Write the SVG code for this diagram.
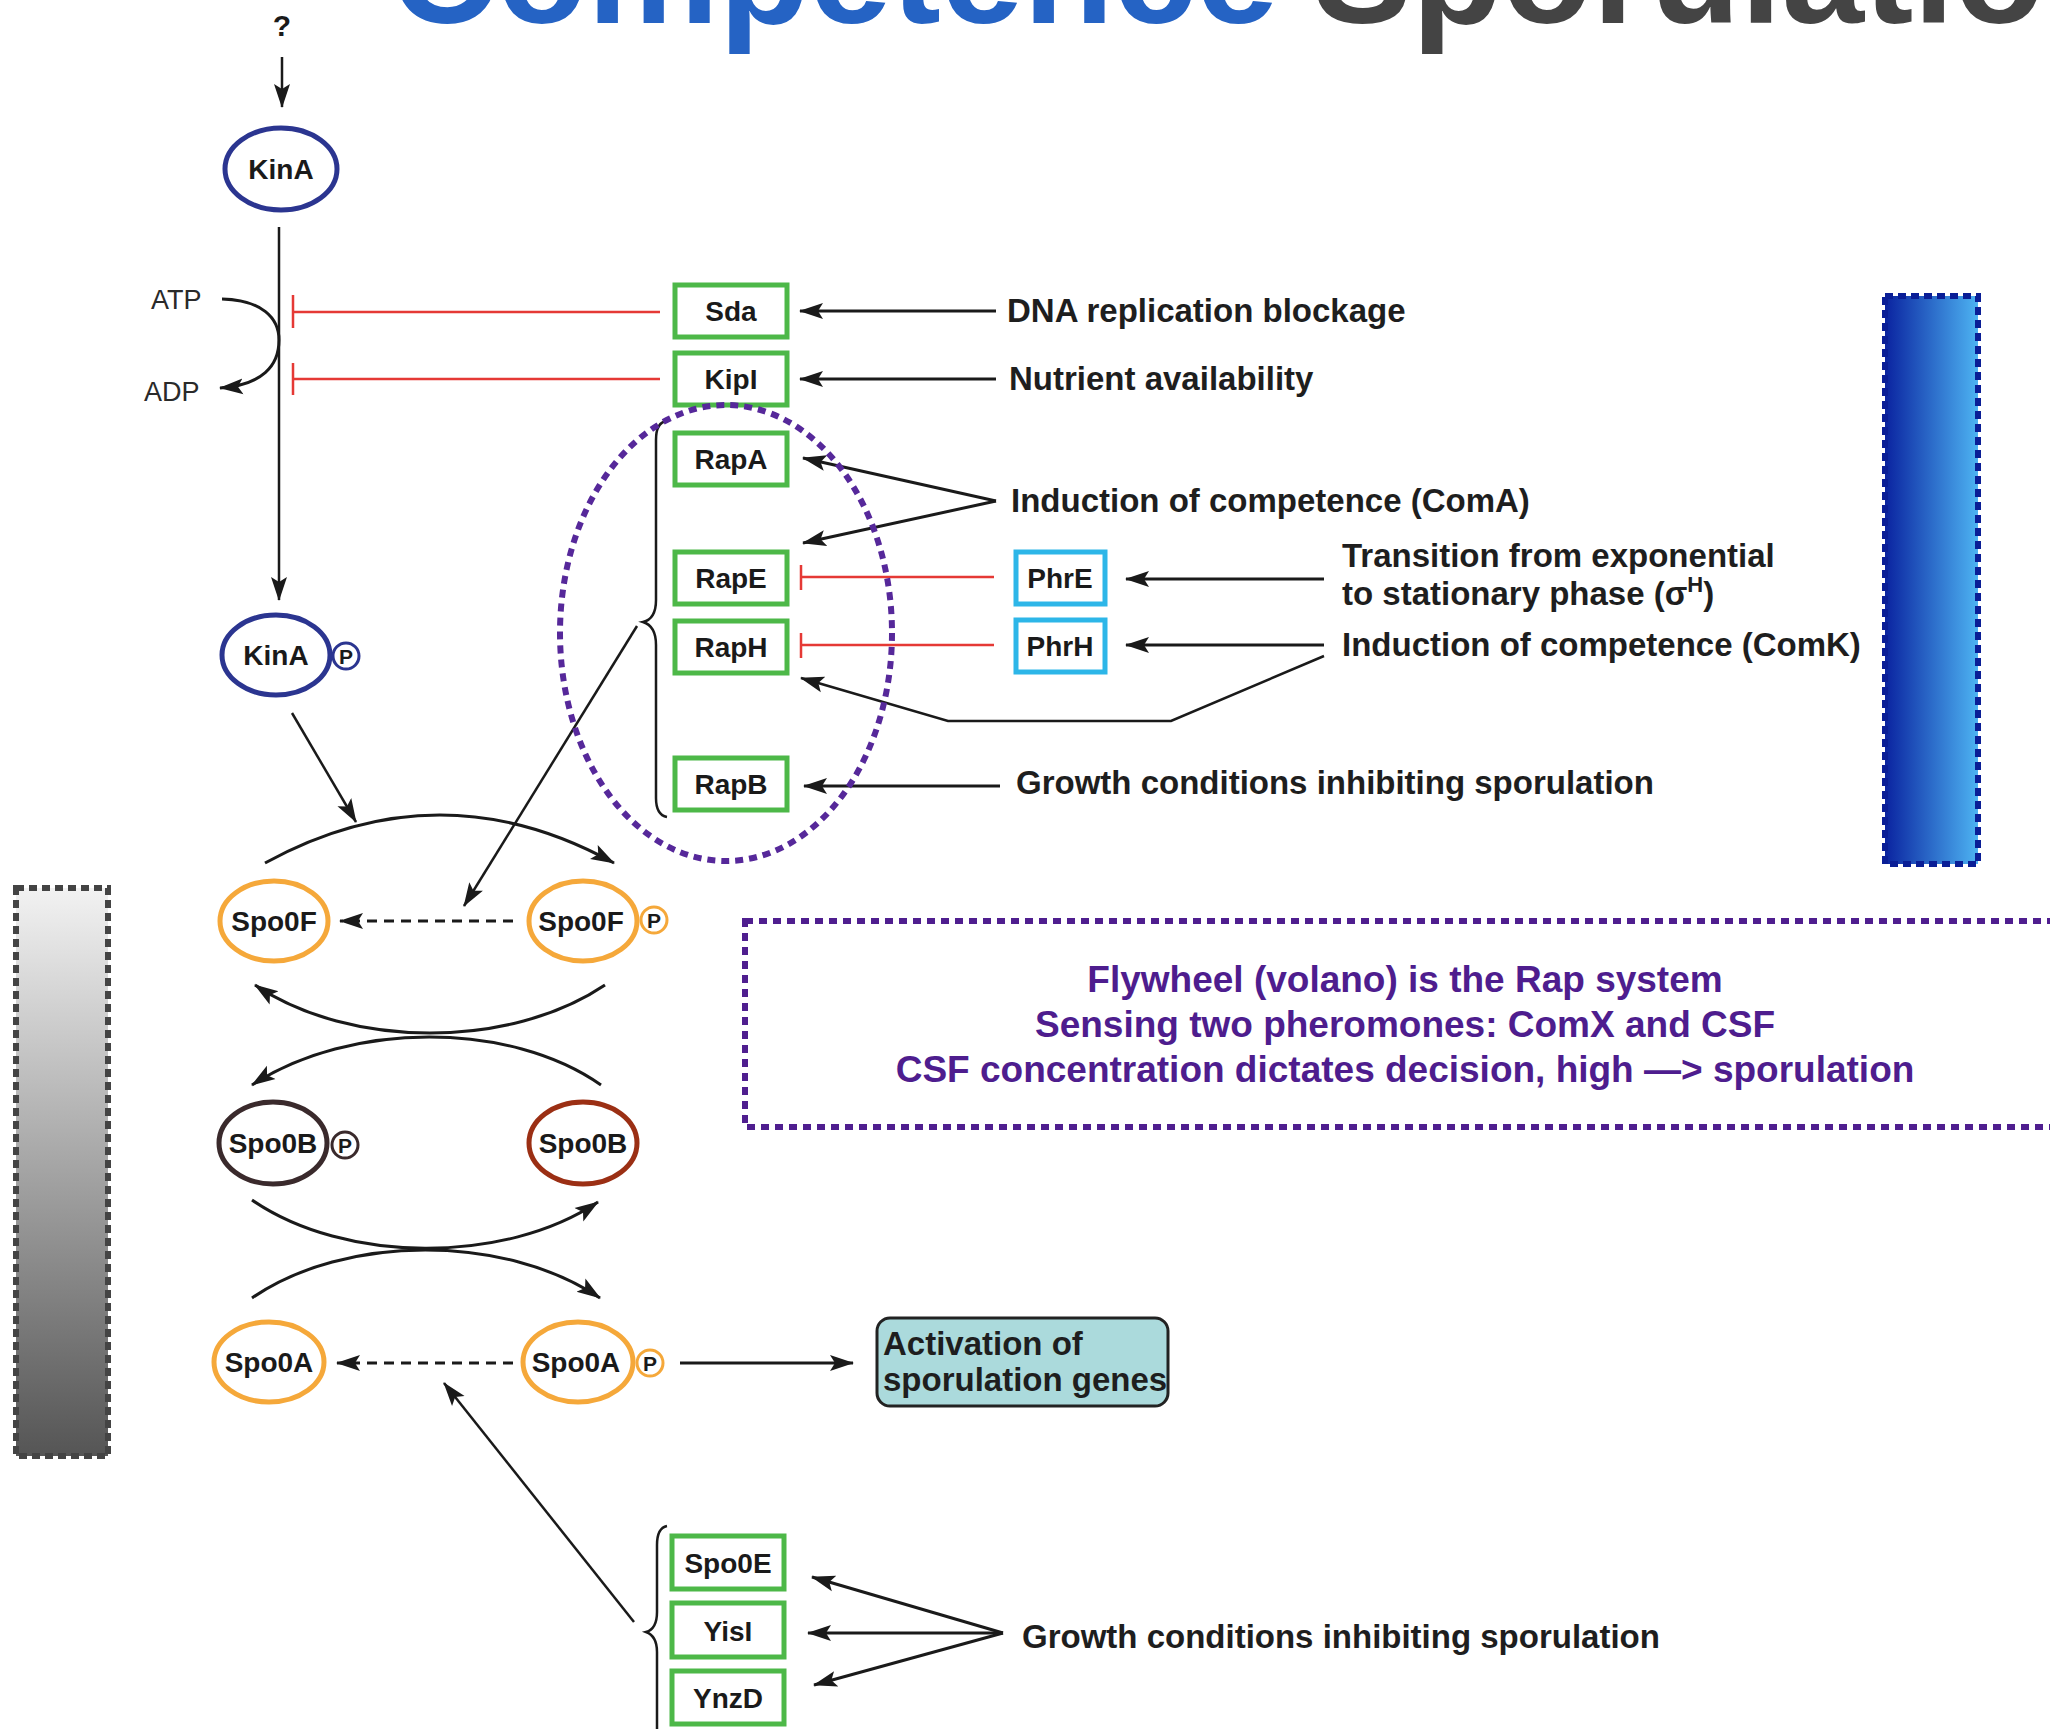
<svg xmlns="http://www.w3.org/2000/svg" width="2050" height="1729" viewBox="0 0 2050 1729">
<defs>
<marker id="ah" markerUnits="userSpaceOnUse" markerWidth="24" markerHeight="18" viewBox="0 0 24 18" refX="23" refY="9" orient="auto">
<path d="M0,1 L24,9 L0,17 L5,9 z" fill="#1a1a1a"/>
</marker>
<linearGradient id="gBlue" x1="0" y1="0" x2="1" y2="0">
<stop offset="0" stop-color="#0A23A0"/>
<stop offset="1" stop-color="#4DB3F2"/>
</linearGradient>
<linearGradient id="gGray" x1="0" y1="0" x2="0" y2="1">
<stop offset="0" stop-color="#F2F2F2"/>
<stop offset="1" stop-color="#555555"/>
</linearGradient>
</defs>
<style>
text{font-family:"Liberation Sans",Arial,Helvetica,sans-serif;}
.title{font-size:148px;font-weight:bold;}
.lbl{font-size:33px;font-weight:bold;fill:#1e1e1e;}
.nl{font-size:28px;font-weight:bold;fill:#1a1a1a;text-anchor:middle;}
.pl{font-size:21px;font-weight:bold;fill:#1a1a1a;text-anchor:middle;}
.atp{font-size:27px;fill:#2a2a2a;}
.gbox{fill:#ffffff;stroke:#4DB848;stroke-width:5;}
.cbox{fill:#ffffff;stroke:#2DB6E8;stroke-width:5;}
.org{fill:#ffffff;stroke:#F5A83A;stroke-width:5;}
.navy{fill:#ffffff;stroke:#2B3590;stroke-width:5;}
.conn{fill:none;stroke:#1a1a1a;stroke-width:2.5;}
.thick{fill:none;stroke:#1a1a1a;stroke-width:3;}
.dash{fill:none;stroke:#1a1a1a;stroke-width:3;stroke-dasharray:10 7;}
.inh{fill:none;stroke:#E53935;stroke-width:2.5;}
.purp{fill:#4E1D8E;font-size:37px;font-weight:bold;text-anchor:middle;}
</style>
<rect width="2050" height="1729" fill="#ffffff"/>

<text class="title" x="390" y="23" fill="#2563C4">Competence</text>
<text class="title" x="1313" y="23" fill="#444444">Sporulation</text>

<rect x="1885" y="296" width="93" height="568" fill="url(#gBlue)" stroke="#0A1E96" stroke-width="6" stroke-dasharray="8 5"/>
<rect x="16" y="888" width="92" height="568" fill="url(#gGray)" stroke="#444444" stroke-width="6" stroke-dasharray="8 5"/>

<g id="connectors">
<path class="conn" d="M282,57 L282,107" marker-end="url(#ah)"/>
<path class="conn" d="M279,227 L279,600" marker-end="url(#ah)"/>
<path class="thick" d="M222,299 C262,300 279,318 279,340 C279,366 262,385 220,388" marker-end="url(#ah)"/>
<path class="inh" d="M660,312 L293,312 M293,295 L293,328"/>
<path class="inh" d="M660,379 L293,379 M293,363 L293,395"/>
<path class="inh" d="M994,577 L801,577 M801,565 L801,590"/>
<path class="inh" d="M994,645 L801,645 M801,633 L801,658"/>
<path class="thick" d="M996,311 L800,311" marker-end="url(#ah)"/>
<path class="thick" d="M996,379 L800,379" marker-end="url(#ah)"/>
<path class="thick" d="M996,501 L803,458" marker-end="url(#ah)"/>
<path class="thick" d="M996,501 L803,543" marker-end="url(#ah)"/>
<path class="thick" d="M1324,579 L1126,579" marker-end="url(#ah)"/>
<path class="thick" d="M1324,645 L1126,645" marker-end="url(#ah)"/>
<path class="conn" d="M1324,656 L1171,721 L948,721 L801,678" marker-end="url(#ah)"/>
<path class="thick" d="M1000,786 L804,786" marker-end="url(#ah)"/>
<path class="conn" d="M667,421 Q656,422 656,440 L656,600 Q656,619 643,622 Q656,626 656,645 L656,798 Q656,815 667,817"/>
<path class="conn" d="M637,626 L464,906" marker-end="url(#ah)"/>
<path class="conn" d="M292,713 L356,822" marker-end="url(#ah)"/>
<path class="thick" d="M265,863 Q440,767 614,863" marker-end="url(#ah)"/>
<path class="dash" d="M513,921 L340,921" marker-end="url(#ah)"/>
<path class="thick" d="M605,985 C510,1049 350,1049 255,985" marker-end="url(#ah)"/>
<path class="thick" d="M601,1085 C510,1021 350,1021 252,1085" marker-end="url(#ah)"/>
<path class="thick" d="M252,1200 C345,1264 505,1264 598,1202" marker-end="url(#ah)"/>
<path class="thick" d="M252,1298 C345,1234 505,1234 600,1298" marker-end="url(#ah)"/>
<path class="dash" d="M513,1363 L337,1363" marker-end="url(#ah)"/>
<path class="thick" d="M680,1363 L853,1363" marker-end="url(#ah)"/>
<path class="conn" d="M667,1526 Q657,1528 657,1545 L657,1612 Q657,1629 646,1632 Q657,1636 657,1652 L657,1740"/>
<path class="conn" d="M634,1622 L444,1383" marker-end="url(#ah)"/>
<path class="thick" d="M1003,1633 L812,1577" marker-end="url(#ah)"/>
<path class="thick" d="M1003,1633 L808,1633" marker-end="url(#ah)"/>
<path class="thick" d="M1003,1633 L814,1685" marker-end="url(#ah)"/>
</g>

<g id="label-q"><text x="282" y="36" font-size="30" font-weight="bold" fill="#1a1a1a" text-anchor="middle">?</text></g>
<g id="label-atp"><text class="atp" x="151" y="309">ATP</text><text class="atp" x="144" y="401">ADP</text></g>

<g id="KinA"><ellipse class="navy" cx="281" cy="169" rx="56" ry="41"/><text class="nl" x="281" y="179">KinA</text></g>
<g id="KinA-P"><ellipse class="navy" cx="276" cy="655" rx="54" ry="40"/><text class="nl" x="276" y="665">KinA</text><circle cx="346" cy="656" r="13" fill="#fff" stroke="#2B3590" stroke-width="3"/><text class="pl" x="346" y="664">P</text></g>

<g id="Sda"><rect class="gbox" x="675" y="285" width="112" height="52"/><text class="nl" x="731" y="321">Sda</text></g>
<g id="KipI"><rect class="gbox" x="675" y="353" width="112" height="52"/><text class="nl" x="731" y="389">KipI</text></g>
<g id="RapA"><rect class="gbox" x="675" y="433" width="112" height="52"/><text class="nl" x="731" y="469">RapA</text></g>
<g id="RapE"><rect class="gbox" x="675" y="552" width="112" height="52"/><text class="nl" x="731" y="588">RapE</text></g>
<g id="RapH"><rect class="gbox" x="675" y="621" width="112" height="52"/><text class="nl" x="731" y="657">RapH</text></g>
<g id="RapB"><rect class="gbox" x="675" y="758" width="112" height="52"/><text class="nl" x="731" y="794">RapB</text></g>
<g id="PhrE"><rect class="cbox" x="1016" y="552" width="89" height="52"/><text class="nl" x="1060" y="588">PhrE</text></g>
<g id="PhrH"><rect class="cbox" x="1016" y="620" width="89" height="52"/><text class="nl" x="1060" y="656">PhrH</text></g>

<ellipse id="rap-group" cx="726" cy="633" rx="166" ry="228" fill="none" stroke="#56289A" stroke-width="6" stroke-dasharray="8 6"/>

<g id="label-dna"><text class="lbl" x="1007" y="322">DNA replication blockage</text></g>
<g id="label-nutrient"><text class="lbl" x="1009" y="390">Nutrient availability</text></g>
<g id="label-comA"><text class="lbl" x="1011" y="512">Induction of competence (ComA)</text></g>
<g id="label-transition"><text class="lbl" x="1342" y="567">Transition from exponential</text><text class="lbl" x="1342" y="605">to stationary phase (σ<tspan font-size="22" dy="-13">H</tspan><tspan dy="13">)</tspan></text></g>
<g id="label-comK"><text class="lbl" x="1342" y="656">Induction of competence (ComK)</text></g>
<g id="label-growth1"><text class="lbl" x="1016" y="794">Growth conditions inhibiting sporulation</text></g>

<g id="Spo0F"><ellipse class="org" cx="274" cy="921" rx="54" ry="40"/><text class="nl" x="274" y="931">Spo0F</text></g>
<g id="Spo0F-P"><ellipse class="org" cx="583" cy="921" rx="54" ry="40"/><text class="nl" x="581" y="931">Spo0F</text><circle cx="654" cy="920" r="13" fill="#fff" stroke="#F5A83A" stroke-width="3"/><text class="pl" x="654" y="928">P</text></g>
<g id="Spo0B-P"><ellipse cx="273" cy="1143" rx="54" ry="41" fill="#fff" stroke="#3A2A2C" stroke-width="5"/><text class="nl" x="273" y="1153">Spo0B</text><circle cx="345" cy="1145" r="13" fill="#fff" stroke="#3A2A2C" stroke-width="3"/><text class="pl" x="345" y="1153">P</text></g>
<g id="Spo0B"><ellipse cx="583" cy="1143" rx="54" ry="41" fill="#fff" stroke="#9B2F14" stroke-width="5"/><text class="nl" x="583" y="1153">Spo0B</text></g>
<g id="Spo0A"><ellipse class="org" cx="269" cy="1362" rx="55" ry="40"/><text class="nl" x="269" y="1372">Spo0A</text></g>
<g id="Spo0A-P"><ellipse class="org" cx="578" cy="1362" rx="55" ry="40"/><text class="nl" x="576" y="1372">Spo0A</text><circle cx="650" cy="1363" r="13" fill="#fff" stroke="#F5A83A" stroke-width="3"/><text class="pl" x="650" y="1371">P</text></g>

<g id="Activation"><rect x="877" y="1318" width="291" height="88" rx="13" fill="#ABDADC" stroke="#222" stroke-width="3"/><text class="lbl" x="883" y="1355" fill="#111">Activation of</text><text class="lbl" x="883" y="1391" fill="#111">sporulation genes</text></g>

<g id="Spo0E"><rect class="gbox" x="672" y="1536" width="112" height="53"/><text class="nl" x="728" y="1573">Spo0E</text></g>
<g id="YisI"><rect class="gbox" x="672" y="1603" width="112" height="54"/><text class="nl" x="728" y="1641">YisI</text></g>
<g id="YnzD"><rect class="gbox" x="672" y="1671" width="112" height="53"/><text class="nl" x="728" y="1708">YnzD</text></g>
<g id="label-growth2"><text class="lbl" x="1022" y="1648">Growth conditions inhibiting sporulation</text></g>

<g id="note"><rect x="745" y="921" width="1330" height="206" fill="none" stroke="#4F1E8F" stroke-width="6" stroke-dasharray="8 6"/>
<text class="purp" x="1405" y="992">Flywheel (volano) is the Rap system</text>
<text class="purp" x="1405" y="1037">Sensing two pheromones: ComX and CSF</text>
<text class="purp" x="1405" y="1082">CSF concentration dictates decision, high —&gt; sporulation</text></g>
</svg>
